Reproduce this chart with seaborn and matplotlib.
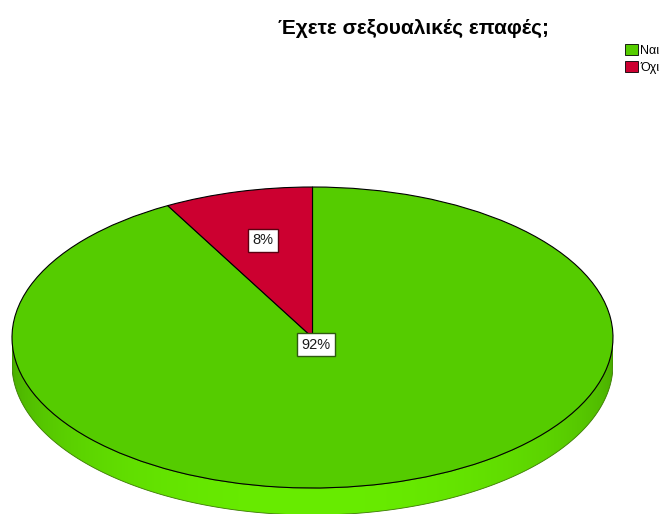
import numpy as np
import matplotlib
matplotlib.use('Agg')
import matplotlib.pyplot as plt
from matplotlib.patches import Polygon, Patch
import seaborn as sns

# ---- data ----
categories = ['Ναι', 'Όχι']
percentages = [92, 8]
colors = ['#55cc00', '#cc0030']
label_edges = ['#2f5a10', '#5a0010']
title = 'Έχετε σεξουαλικές επαφές;'

sns.set_theme(style='white')
plt.rcParams['font.family'] = ['Liberation Sans', 'DejaVu Sans']
plt.rcParams['text.color'] = 'black'

W, H = 666, 514
fig = plt.figure(figsize=(W / 100, H / 100), dpi=100)

# top face of the "3D" pie in pixels, plus side thickness
x0, x1, y0, y1 = 12, 613, 187, 488
depth_px = 27
ry_px = (y1 - y0) / 2
depth = depth_px / ry_px

ax = fig.add_axes([x0 / W, 1 - (y1 + depth_px) / H, (x1 - x0) / W, (y1 - y0 + depth_px) / H])

wedges, _ = ax.pie(percentages, colors=colors, startangle=90, counterclock=False,
                   wedgeprops=dict(edgecolor='black', linewidth=0.8))

# side band of the pie (front half of the ellipse pushed down)
t = np.linspace(np.pi, 2 * np.pi, 300)
top = np.column_stack([np.cos(t), np.sin(t)])
bot = np.column_stack([np.cos(t[::-1]), np.sin(t[::-1]) - depth])
side = Polygon(np.vstack([top, bot]), closed=True, facecolor='none',
               edgecolor='#3a7a00', lw=0.6, zorder=0.5)
ax.add_patch(side)

xs = np.linspace(-1, 1, 400)
dark = np.array([72, 170, 0]) / 255
bright = np.array([104, 236, 0]) / 255
w = np.sqrt(np.clip(1 - xs ** 2, 0, 1))[:, None]
grad = (dark * (1 - w) + bright * w)[None, :, :]
im = ax.imshow(grad, extent=[-1, 1, -1 - depth, 0], aspect='auto', zorder=0.4)
im.set_clip_path(side)

# percentage labels
label_dist = [0.05, 0.667]
for wdg, pct, r, ec in zip(wedges, percentages, label_dist, label_edges):
    mid = np.deg2rad((wdg.theta1 + wdg.theta2) / 2)
    ax.text(r * np.cos(mid), r * np.sin(mid), f'{pct}%', ha='center', va='center',
            fontsize=10.5, color='#1a1a1a', zorder=5,
            bbox=dict(boxstyle='square,pad=0.3', facecolor='white', edgecolor=ec, lw=1.0))

ax.set_aspect('auto')
ax.set_xlim(-1, 1)
ax.set_ylim(-1 - depth, 1)
ax.axis('off')

fig.text(414 / W, 1 - 28 / H, title, ha='center', va='center', fontsize=15, fontweight='bold')

handles = [Patch(facecolor=c, edgecolor='black', lw=0.6, label=l) for c, l in zip(colors, categories)]
fig.legend(handles=handles, loc='upper left', bbox_to_anchor=(625 / W, 1 - 44 / H),
           frameon=False, fontsize=9, handlelength=1.0, handleheight=1.0,
           handletextpad=0.2, labelspacing=0.35, borderpad=0, borderaxespad=0)

fig.savefig('out.png', dpi=100)
